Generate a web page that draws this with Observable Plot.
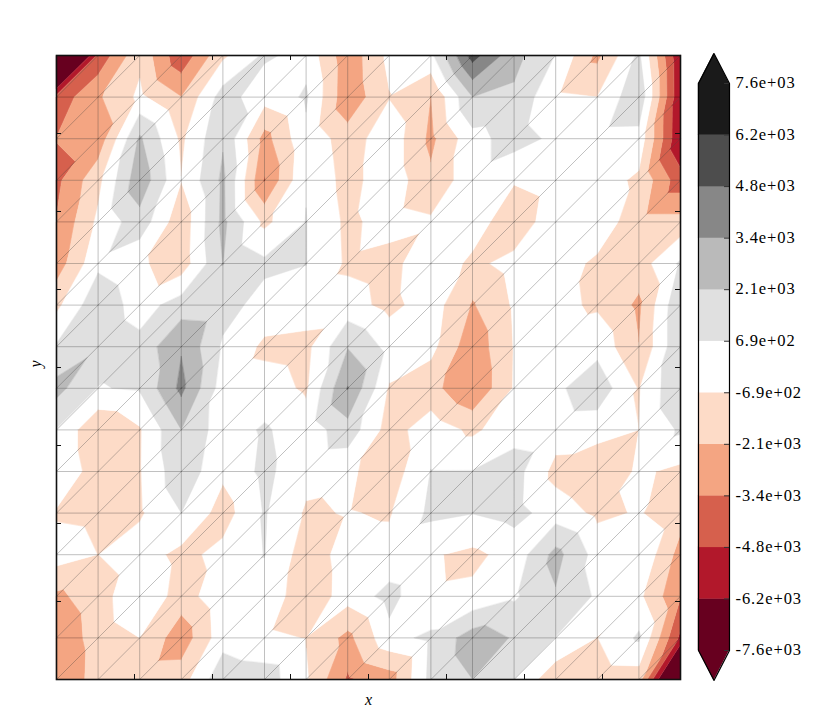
<!DOCTYPE html>
<html>
<head>
<meta charset="utf-8">
<script src="https://cdn.jsdelivr.net/npm/d3@7"></script>
<script src="https://cdn.jsdelivr.net/npm/@observablehq/plot@0.6"></script>
<style>
html,body{margin:0;padding:0;background:#fff}
#fig{position:relative;width:830px;height:727px;overflow:hidden}
#fig svg{position:absolute;top:0;background:transparent}
</style>
</head>
<body>
<div id="fig"></div>
<script>
// Field values on the mesh, in units of one half contour step (step unit = 686)
const unit = 686;
const row00 = [-19.5,-6.5,-1.5,-6.5,-1.4,1.3,.4,-4.4,-.5,.5,7.8,3.7,.9,-3.5,1.4,-8.9];
const row01 = [-6.3,-3.3,-.6,-3,1.9,-.2,1.25,-4.5,-1.1,-3.05,3,2.6,-.7,-1,2.6,-8.8];
const row02 = [-4.95,-4.4,3.3,-1.4,2.8,-3.8,.55,-2.1,.3,-3.5,.3,1.85,.55,.35,.3,-8.9];
const row03 = [-5.5,-1.6,4.4,-.95,3.4,-5.1,.9,-1.8,.3,-2.6,.3,-.8,0,0,-1.4,-6.2];
const row04 = [-4.9,-.6,2.2,-2.4,3.5,-1.5,1.05,-1.45,-.2,-.7,.2,-2.6,.5,.3,-2.3,-2.3];
const row05 = [-4.1,.55,-.66,-2.2,3.05,1.45,1.05,-1.35,-1.8,.6,-1.5,-.3,0,-1.4,-2,1.3];
const row06 = [-1.5,2.5,0,2,1.8,.23,0,-.2,-1.6,0,-3.2,-.75,-.5,-1.3,-3.4,2.8];
const row07 = [1.2,2.76,1.66,4.85,.7,-1.4,-1.63,2.9,.4,-.4,-4.4,-.9,0,.4,-2.95,2.8];
const row08 = [3.67,.9,1.2,5.5,0,-.25,-1.25,5.1,-1.2,-2.3,-4.9,-.85,.6,2.2,-1.15,2.9];
const row09 = [.9,-2.85,-1.2,3,-.1,1.26,-.2,2.2,-1.9,.1,-1.4,.3,0,-.1,-1,1.3];
const row10 = [.9,-2.2,-1.15,2.4,-.6,1.5,-.4,-.6,-2.2,1.05,1.05,1.85,-1.65,-2.8,-.65,-1.5];
const row11 = [-1.25,-1.45,-1.27,1,-1.9,1.15,-1.25,-.9,-1.2,1.45,1.05,1.7,.05,-1.4,-.85,-2.2];
const row12 = [-.1,-1.02,0,-1.6,-.4,1.05,-2.05,-.25,-.27,-.8,-1.45,-.3,3.65,.2,.85,-3.8];
const row13 = [-3.4,-2.05,.9,-2,.4,.3,-2.3,-.2,1.65,-.75,-.6,.7,2.8,.7,-.55,-4.9];
const row14 = [-4.4,-2.2,-1,-4.25,.2,-.7,-1.05,-3.6,.4,1.4,4,2.85,.95,-1.05,1.3,-7.5];
const row15 = [-4.9,-2.1,-2,-1.9,2.4,2.1,-.85,-5.3,-4,1.6,3,1,-2.5,-2.2,-2.1,-17];
const rows = [row00,row01,row02,row03,row04,row05,row06,row07,row08,row09,row10,row11,row12,row13,row14,row15];

const levels = [-7550,-6177,-4805,-3432,-2059,-686,686,2059,3432,4805,6177,7550];
const bandColors = ["#67001f","#b2182b","#d6604d","#f4a582","#fddbc7","#ffffff","#e0e0e0","#bababa","#878787","#4d4d4d","#1a1a1a"];
const levelLabels = ["-7.6e+03","-6.2e+03","-4.8e+03","-3.4e+03","-2.1e+03","-6.9e+02","6.9e+02","2.1e+03","3.4e+03","4.8e+03","6.2e+03","7.6e+03"];
const tickPositions = [1.875,3.75,5.625,7.5,9.375,11.25,13.125];
const tickLength = 0.12;
const extendFraction = 0.58;
const bandLower = [-Infinity, ...levels.slice(1,11)];
const bandUpper = [...levels.slice(1,11), Infinity];

const n = rows.length;
const vertex = (i, j) => [i, n - 1 - j, rows[j][i] * unit];

function clip(poly, level, keepAbove) {
  const out = [];
  for (let k = 0; k < poly.length; k++) {
    const a = poly[k], b = poly[(k + 1) % poly.length];
    const ina = keepAbove ? a[2] >= level : a[2] <= level;
    const inb = keepAbove ? b[2] >= level : b[2] <= level;
    if (ina) out.push(a);
    if (ina !== inb) {
      const t = (level - a[2]) / (b[2] - a[2]);
      out.push([a[0] + t * (b[0] - a[0]), a[1] + t * (b[1] - a[1]), level]);
    }
  }
  return out;
}

const triangles = [];
for (let j = 0; j < n - 1; j++) for (let i = 0; i < n - 1; i++) {
  triangles.push([vertex(i, j), vertex(i + 1, j), vertex(i, j + 1)]);
  triangles.push([vertex(i + 1, j), vertex(i + 1, j + 1), vertex(i, j + 1)]);
}

const fillPoints = [];
let polyId = 0;
triangles.forEach(tri => {
  bandColors.forEach((_, b) => {
    let p = tri;
    if (isFinite(bandLower[b])) p = clip(p, bandLower[b], true);
    if (p.length && isFinite(bandUpper[b])) p = clip(p, bandUpper[b], false);
    if (p.length >= 3) {
      polyId++;
      p.forEach(q => fillPoints.push({id: polyId, band: b, x: q[0], y: q[1]}));
    }
  });
});

const edges = [];
for (let j = 0; j < n; j++) for (let i = 0; i < n; i++) {
  const [x, y] = vertex(i, j);
  if (i < n - 1) edges.push({x1: x, y1: y, x2: x + 1, y2: y});
  if (j < n - 1) edges.push({x1: x, y1: y, x2: x, y2: y - 1});
  if (i < n - 1 && j < n - 1) edges.push({x1: x + 1, y1: y, x2: x, y2: y - 1});
}

const serif = "'Liberation Serif', 'DejaVu Serif', serif";

const main = Plot.plot({
  width: 830, height: 727,
  marginLeft: 56, marginRight: 150, marginTop: 55, marginBottom: 48,
  x: {domain: [0, 15], axis: null},
  y: {domain: [0, 15], axis: null},
  color: {type: "ordinal", domain: d3.range(bandColors.length), range: bandColors},
  marks: [
    Plot.line(fillPoints, {x: "x", y: "y", z: "id", fill: "band", stroke: "band", strokeWidth: 0.4, curve: "linear-closed"}),
    Plot.link(edges, {x1: "x1", y1: "y1", x2: "x2", y2: "y2", stroke: "#000", strokeWidth: 0.6, strokeOpacity: 0.42}),
    Plot.ruleX(tickPositions, {x: d => d, y1: 0, y2: tickLength, stroke: "#111", strokeWidth: 1}),
    Plot.ruleX(tickPositions, {x: d => d, y1: 15 - tickLength, y2: 15, stroke: "#111", strokeWidth: 1}),
    Plot.ruleY(tickPositions, {y: d => d, x1: 0, x2: tickLength, stroke: "#111", strokeWidth: 1}),
    Plot.ruleY(tickPositions, {y: d => d, x1: 15 - tickLength, x2: 15, stroke: "#111", strokeWidth: 1}),
    Plot.frame({stroke: "#111", strokeWidth: 1.6}),
    Plot.text(["x"], {frameAnchor: "bottom", dy: 25, fontFamily: serif, fontStyle: "italic", fontSize: 16, fill: "#000"}),
    Plot.text(["y"], {frameAnchor: "left", dx: -21, rotate: -90, fontFamily: serif, fontStyle: "italic", fontSize: 16, fill: "#000"})
  ]
});
main.style.left = "0px";

const last = levels.length - 1;
const cbBands = bandColors.map((c, i) => ({i, c}));
const outline = [
  {x: 0, y: 0}, {x: 0.5, y: -extendFraction}, {x: 1, y: 0},
  {x: 1, y: last}, {x: 0.5, y: last + extendFraction}, {x: 0, y: last}
];
const tipLow = [{y: -extendFraction, x1: 0.5, x2: 0.5}, {y: 0, x1: 0, x2: 1}];
const tipHigh = [{y: last, x1: 0, x2: 1}, {y: last + extendFraction, x1: 0.5, x2: 0.5}];
const cbTicks = levels.map((_, i) => i);

const colorbar = Plot.plot({
  width: 132, height: 727,
  marginLeft: 8, marginRight: 93, marginTop: 83, marginBottom: 77,
  x: {domain: [0, 1], axis: null},
  y: {domain: [0, last], axis: null},
  marks: [
    Plot.rect(cbBands, {x1: 0, x2: 1, y1: "i", y2: d => d.i + 1, fill: "c", inset: -0.2}),
    Plot.areaX(tipLow, {x1: "x1", x2: "x2", y: "y", fill: bandColors[0]}),
    Plot.areaX(tipHigh, {x1: "x1", x2: "x2", y: "y", fill: bandColors[last - 1]}),
    Plot.ruleY(cbTicks, {y: d => d, x1: 0.84, x2: 1, stroke: "#333", strokeWidth: 1}),
    Plot.line(outline, {x: "x", y: "y", stroke: "#000", strokeWidth: 1.2, curve: "linear-closed"}),
    Plot.text(cbTicks, {x: 1, y: d => d, text: d => levelLabels[d], textAnchor: "start", dx: 6, dy: -0.5, fontFamily: serif, fontSize: 16.5, fill: "#000"})
  ]
});
colorbar.style.left = "690px";
colorbar.style.overflow = "visible";
colorbar.style.letterSpacing = "0.9px";

const fig = document.getElementById("fig");
fig.append(main, colorbar);
</script>
</body>
</html>
